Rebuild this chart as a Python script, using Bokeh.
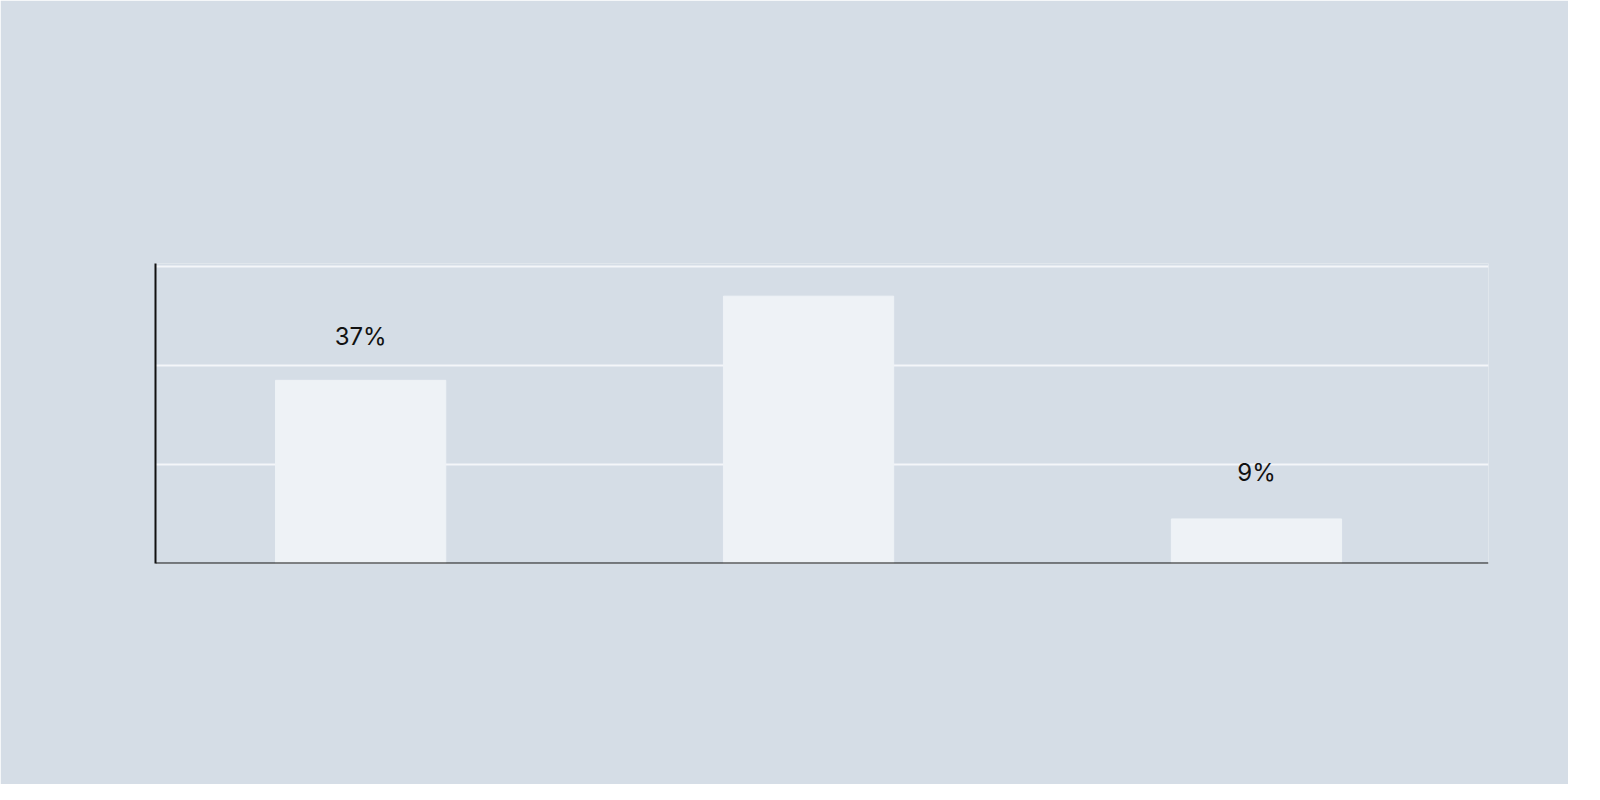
from bokeh.plotting import figure
from bokeh.models import Label, Range1d, FixedTicker
from bokeh.embed import file_html
from bokeh.resources import INLINE

categories = ["Gar nicht", "Einzelne Pilotversuche", "Systematisch über das Unternehmen hinweg"]
values = [37, 54, 9]
value_labels = ["37%", "54%", "9%"]
tick_values = [0, 20, 40, 60]
tick_labels = ["0%", "20%", "40%", "60%"]

BG = "#d5dde6"
INK = "#111111"
xs = [1, 2, 3]
p = figure(width=1568, height=784, output_backend="svg", toolbar_location=None,
           x_range=Range1d(0.542, 3.518), y_range=Range1d(0, 60.6),
           min_border_left=155, min_border_right=80, min_border_top=263, min_border_bottom=221)
p.background_fill_color = BG
p.border_fill_color = BG
p.outline_line_color = None

p.vbar(x=xs, top=values, width=0.38, color="#eef2f6")

# value labels (data-anchored annotations, not clipped)
for x, v, t, fs, off in zip(xs, values, value_labels, ["24px", "17px", "24px"], [44, 61, 46]):
    p.add_layout(Label(x=x, y=v, y_offset=off, text=t, text_align="center",
                       text_baseline="middle", text_font_size=fs, text_font="Inter",
                       text_color=INK))

p.xaxis.visible = False
p.yaxis.ticker = FixedTicker(ticks=tick_values)
p.yaxis.major_label_text_font_size = "0px"
p.yaxis.major_tick_line_color = None
p.yaxis.minor_tick_line_color = None
p.yaxis.axis_line_color = INK
p.yaxis.axis_line_width = 2
p.xgrid.visible = False
p.ygrid.ticker = FixedTicker(ticks=[20, 40, 60])
p.ygrid.grid_line_color = "#f4f6f9"
p.ygrid.grid_line_width = 2

p.segment(x0=[0.542], x1=[3.518], y0=[0], y1=[0], line_color=INK, line_width=2)

# y tick labels
for v, t, off in zip(tick_values, tick_labels, [13, -5, -8, -19]):
    p.add_layout(Label(x=-88, x_units="screen", y=v, y_offset=off, text=t,
                       text_baseline="middle", text_font_size="26px", text_font="Inter",
                       text_color=INK))

# category labels (frame-relative screen units)
for txt, x, yy in [(categories[0], 201, -44), (categories[1], 483, -44),
                   ("Unternehmen hinweg", 493, -82), ("Systematisch über das", 855, -44)]:
    p.add_layout(Label(x=x, y=yy, x_units="screen", y_units="screen", text=txt,
                       text_align="center", text_baseline="middle", text_font_size="27px",
                       text_font="Roboto", text_color=INK))

for txt, yy in [("KI-Einsatz in Schweizer", 445), ("KMU 2024", 378)]:
    p.add_layout(Label(x=-88, y=yy, x_units="screen", y_units="screen", text=txt,
                       text_baseline="middle", text_font_size="42px", text_font="Inter",
                       text_color=INK))
p.add_layout(Label(x=-88, y=-122, x_units="screen", y_units="screen",
                   text="Quelle: KMU-Mittelstandstudie 2024, Raiffeisen Economic-Research",
                   text_baseline="middle", text_font_size="19px", text_font="Inter",
                   text_color=INK))

open("out.html", "w").write(file_html(p, INLINE))
